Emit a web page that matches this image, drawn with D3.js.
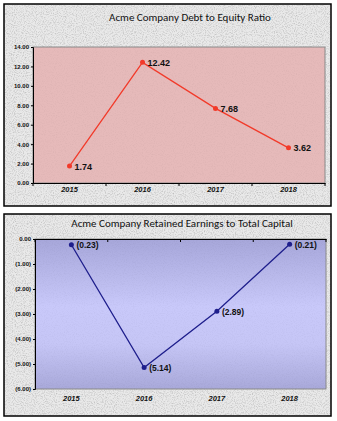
<!DOCTYPE html>
<html><head><meta charset="utf-8">
<script src="https://cdn.jsdelivr.net/npm/d3@7"></script>
<style>html,body{margin:0;padding:0;background:#fff;}svg{display:block;}</style>
</head><body>
<script>
const years = ["2015","2016","2017","2018"];
const debtToEquity = [1.74, 12.42, 7.68, 3.62];
const retainedToCapital = [-0.23, -5.14, -2.89, -0.21];
const debtTicks = [0,2,4,6,8,10,12,14];
const retainedTicks = [0,-1,-2,-3,-4,-5,-6];
const titles = ["Acme Company Debt to Equity Ratio","Acme Company Retained Earnings to Total Capital"];

const W=337,H=421;
const svg=d3.select("body").append("svg").attr("width",W).attr("height",H);
const defs=svg.append("defs");
const f=defs.append("filter").attr("id","noise").attr("x",0).attr("y",0).attr("width","100%").attr("height","100%");
f.append("feTurbulence").attr("type","fractalNoise").attr("baseFrequency",0.9).attr("numOctaves",2).attr("seed",3).attr("result","t");
f.append("feColorMatrix").attr("in","t").attr("type","matrix")
 .attr("values","0 0 0 0 0  0 0 0 0 0  0 0 0 0 0  0 0 0 -1.1 0.62").attr("result","a");
f.append("feComposite").attr("in","a").attr("in2","SourceGraphic").attr("operator","in");
const g2=defs.append("linearGradient").attr("id","blueg").attr("x1",0).attr("y1",0).attr("x2",0).attr("y2",1);
[[0,"#a7a7da"],[0.45,"#c9c9fa"],[0.7,"#c6c6f6"],[1,"#a9a9da"]].forEach(s=>g2.append("stop").attr("offset",s[0]).attr("stop-color",s[1]));

function fmt1(v){return d3.format(".2f")(v);}
function fmtParen(v){return v<0?"("+d3.format(".2f")(-v)+")":d3.format(".2f")(v);}

function chart(o){
  const g=svg.append("g");
  g.append("rect").attr("x",o.box[0]).attr("y",o.box[1]).attr("width",o.box[2]).attr("height",o.box[3]).attr("fill","#e9e9e9");
  g.append("rect").attr("x",o.box[0]).attr("y",o.box[1]).attr("width",o.box[2]).attr("height",o.box[3]).attr("fill","#000").attr("filter","url(#noise)").attr("opacity",0.35);
  g.append("rect").attr("x",o.box[0]).attr("y",o.box[1]).attr("width",o.box[2]).attr("height",o.box[3]).attr("fill","none").attr("stroke","#000").attr("stroke-width",1.5);
  g.append("text").attr("x",o.titleX).attr("y",o.titleY).attr("text-anchor","middle")
   .attr("font-family","Carlito, Lato, 'Open Sans', sans-serif").attr("font-size",11).attr("fill","#111").text(o.title);
  const x=d3.scaleBand().domain(years).range([o.pl,o.pr]);
  const y=d3.scaleLinear().domain(o.ydom).range([o.pb,o.pt]);
  g.append("rect").attr("x",o.pl).attr("y",o.pt).attr("width",o.pr-o.pl).attr("height",o.pb-o.pt).attr("fill",o.fill).attr("stroke","#8a8a8a").attr("stroke-width",1);
  g.append("rect").attr("x",o.pl).attr("y",o.pt).attr("width",o.pr-o.pl).attr("height",o.pb-o.pt).attr("fill","#000").attr("filter","url(#noise)").attr("opacity",0.07);
  // y axis
  const ya=g.append("g").attr("transform",`translate(${o.pl},0)`)
   .call(d3.axisLeft(y).tickValues(o.ticks).tickFormat(o.fmt).tickSize(2).tickPadding(2));
  ya.select(".domain").attr("stroke","#000").attr("stroke-width",1);
  ya.selectAll(".tick line").attr("stroke","#000");
  ya.selectAll("text").attr("font-family","Arial, 'Liberation Sans', sans-serif").attr("font-size",6).attr("font-weight","bold").attr("fill","#111");
  // x axis
  const xa=g.append("g").attr("transform",`translate(0,${y(0)})`)
   .call(d3.axisBottom(x).tickSize(0).tickFormat(""));
  xa.select(".domain").attr("stroke","#000").attr("stroke-width",1);
  const edges=[o.pl].concat(years.map(d=>x(d)+x.bandwidth()));
  xa.selectAll(".sep").data(edges).enter().append("line").attr("x1",d=>d).attr("x2",d=>d).attr("y1",0).attr("y2",3).attr("stroke","#000");
  g.selectAll(".xl").data(years).enter().append("text").attr("x",d=>x(d)+x.bandwidth()/2).attr("y",o.xlY)
   .attr("text-anchor","middle").attr("font-family","Arial, 'Liberation Sans', sans-serif").attr("font-size",7.5)
   .attr("font-weight","bold").attr("font-style","italic").attr("fill","#111").text(d=>d);
  const pts=years.map((d,i)=>[x(d)+x.bandwidth()/2,y(o.vals[i]),o.vals[i]]);
  g.append("path").attr("d",d3.line()(pts.map(p=>[p[0],p[1]]))).attr("fill","none").attr("stroke",o.color).attr("stroke-width",1.3);
  g.selectAll(".pt").data(pts).enter().append("circle").attr("cx",p=>p[0]).attr("cy",p=>p[1]).attr("r",2.5).attr("fill",o.color);
  g.selectAll(".dl").data(pts).enter().append("text").attr("x",p=>p[0]+5).attr("y",p=>p[1]+3.5)
   .attr("font-family","Arial, 'Liberation Sans', sans-serif").attr("font-size",o.dlSize).attr("font-weight","bold").attr("fill","#111")
   .text(p=>o.fmt(p[2]));
}

chart({box:[4,4,327,202],title:titles[0],titleX:190,titleY:21,pl:33,pr:325,pt:47,pb:183,ydom:[0,14],ticks:debtTicks,fmt:fmt1,
  fill:"#e6baba",color:"#f23a2a",vals:debtToEquity,xlY:192,dlSize:9});
chart({box:[4,214,327,202],title:titles[1],titleX:182,titleY:227,pl:35,pr:326,pt:239,pb:389,ydom:[-6,0],ticks:retainedTicks,fmt:fmtParen,
  fill:"url(#blueg)",color:"#1e1e8c",vals:retainedToCapital,xlY:401,dlSize:8.5});
</script>
</body></html>
